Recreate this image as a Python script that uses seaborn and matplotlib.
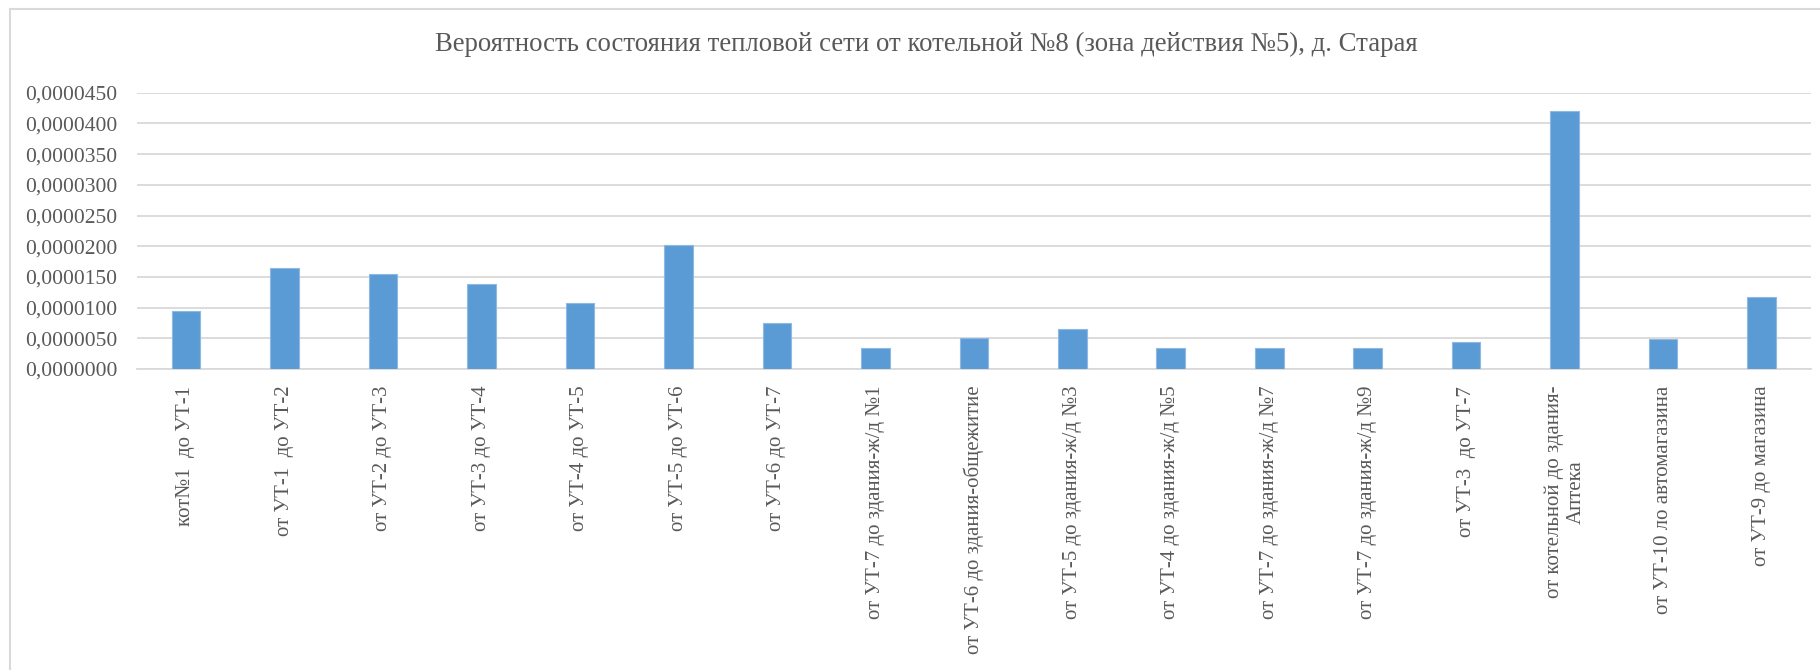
"""
Вероятность состояния тепловой сети от котельной №8 (зона действия №5), д. Старая
Столбчатая диаграмма -> out.png
"""

import matplotlib
matplotlib.use("Agg")
import matplotlib.pyplot as plt
from matplotlib.lines import Line2D
from matplotlib.ticker import FuncFormatter
import pandas as pd
import seaborn as sns

# ─────────────────────────────────────────────
#  ДАННЫЕ
# ─────────────────────────────────────────────

TITLE = "Вероятность состояния тепловой сети от котельной №8 (зона действия №5), д. Старая"

SEGMENTS = [
    "кот№1  до УТ-1",
    "от УТ-1  до УТ-2",
    "от УТ-2 до УТ-3",
    "от УТ-3 до УТ-4",
    "от УТ-4 до УТ-5",
    "от УТ-5 до УТ-6",
    "от УТ-6 до УТ-7",
    "от УТ-7 до здания-ж/д №1",
    "от УТ-6 до здания-общежитие",
    "от УТ-5 до здания-ж/д №3",
    "от УТ-4 до здания-ж/д №5",
    "от УТ-7 до здания-ж/д №7",
    "от УТ-7 до здания-ж/д №9",
    "от УТ-3  до УТ-7",
    "от котельной до здания-\nАптека",
    "от УТ-10 ло автомагазина",
    "от УТ-9 до магазина",
]

PROBABILITY = [
    0.0000094, 0.0000165, 0.0000154, 0.0000139, 0.0000107, 0.0000202,
    0.00000755, 0.0000034, 0.0000050, 0.0000065, 0.0000034, 0.00000345,
    0.0000034, 0.00000435, 0.0000421, 0.00000495, 0.0000118,
]

Y_TICKS = [i * 0.000005 for i in range(10)]

# ─────────────────────────────────────────────
#  СТИЛЬ
# ─────────────────────────────────────────────

BAR_COLOR  = "#5B9BD5"
GRID_COLOR = "#D9D9D9"
TEXT_COLOR = "#595959"

sns.set_style("white")
plt.rcParams["font.family"] = ["Liberation Serif", "DejaVu Serif"]

# ─────────────────────────────────────────────
#  ГРАФИК
# ─────────────────────────────────────────────

df = pd.DataFrame({"segment": SEGMENTS, "p": PROBABILITY})

fig = plt.figure(figsize=(18.2, 6.7), dpi=100)
ax = fig.add_axes([0.0751, 0.4493, 0.9199, 0.4123])

sns.barplot(data=df, x="segment", y="p", color=BAR_COLOR, width=0.29,
            edgecolor="#8FB8E2", linewidth=0.8, saturation=1, ax=ax, zorder=3)

ax.set_xlim(-0.5, len(SEGMENTS) - 0.5)
ax.set_ylim(0, Y_TICKS[-1])
ax.set_yticks(Y_TICKS)
ax.yaxis.set_major_formatter(FuncFormatter(lambda v, _: f"{v:.7f}".replace(".", ",")))
ax.grid(axis="y", color=GRID_COLOR, linewidth=1.3, zorder=0)
ax.set_axisbelow(True)

for side in ("top", "right", "left"):
    ax.spines[side].set_visible(False)
ax.spines["bottom"].set_color(GRID_COLOR)
ax.spines["bottom"].set_linewidth(1.3)

ax.set_xlabel("")
ax.set_ylabel("")
ax.tick_params(axis="y", length=0, pad=14, labelsize=15.5, labelcolor=TEXT_COLOR)
ax.tick_params(axis="x", length=0, pad=12, labelsize=15, labelcolor=TEXT_COLOR)
plt.setp(ax.get_xticklabels(), rotation=90, ha="center", va="top",
         multialignment="center")

fig.text(0.509, 0.933, TITLE, ha="center", va="center",
         fontsize=19.3, color=TEXT_COLOR)

# рамка области диаграммы (видны только левая и верхняя стороны)
fig.add_artist(Line2D([0.0055, 0.0055], [0, 0.986], transform=fig.transFigure,
                      color=GRID_COLOR, linewidth=1.5))
fig.add_artist(Line2D([0.0055, 1.0], [0.986, 0.986], transform=fig.transFigure,
                      color=GRID_COLOR, linewidth=1.5))

fig.savefig("out.png", dpi=100)
plt.close(fig)
